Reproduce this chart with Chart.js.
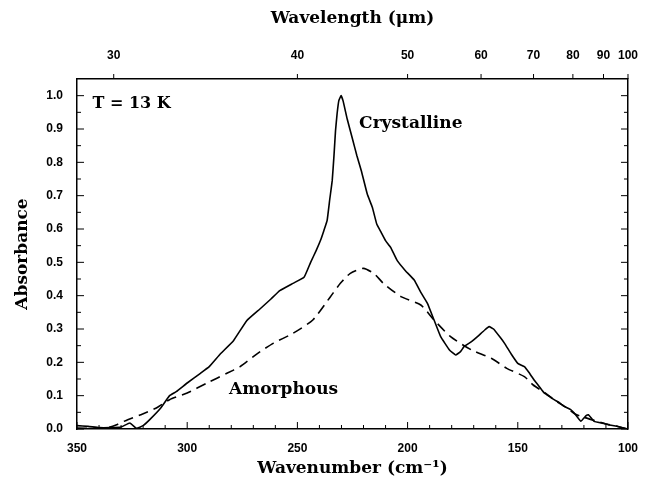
<!DOCTYPE html>
<html>
<head>
<meta charset="utf-8">
<script src="https://cdn.jsdelivr.net/npm/chart.js@4.4.0/dist/chart.umd.min.js"></script>
<style>
  body { margin: 0; background: #fff; }
  #wrap { width: 646px; height: 479px; }
</style>
</head>
<body>
<div id="wrap"><canvas id="spectrum" width="646" height="479"></canvas></div>
<script>
// Wavenumber (cm-1) / absorbance
const crystWavenumber = [350, 345, 340, 335, 330, 326, 323, 320, 317, 312, 308, 305, 300, 294, 290, 285, 279, 273, 267, 262, 258, 252, 247, 244, 241.5, 239.5, 238, 236.5, 235.3, 234.2, 233.4, 232.7, 232, 231.2, 230.2, 229.3, 227.4, 225, 223, 221, 218.3, 216, 214, 212, 210, 207.7, 204.7, 201, 197, 194, 191, 188, 185, 181, 178.2, 176, 174.4, 171, 168.3, 165, 163, 161, 158, 156, 153, 150, 147, 145, 142.6, 140, 138, 135, 133.5, 131, 129, 126, 124.4, 121.4, 119, 118, 115.3, 112, 109, 105, 100];
const crystAbsorbance = [0.010, 0.008, 0.004, 0.004, 0.006, 0.018, 0.002, 0.010, 0.028, 0.063, 0.100, 0.112, 0.138, 0.167, 0.187, 0.225, 0.265, 0.325, 0.360, 0.390, 0.415, 0.437, 0.455, 0.500, 0.535, 0.566, 0.595, 0.626, 0.690, 0.745, 0.820, 0.895, 0.945, 0.985, 1.000, 0.985, 0.930, 0.870, 0.820, 0.775, 0.705, 0.665, 0.615, 0.590, 0.565, 0.545, 0.505, 0.475, 0.447, 0.410, 0.377, 0.327, 0.277, 0.237, 0.222, 0.232, 0.247, 0.262, 0.277, 0.297, 0.307, 0.300, 0.275, 0.257, 0.225, 0.197, 0.187, 0.170, 0.147, 0.125, 0.108, 0.095, 0.088, 0.078, 0.068, 0.058, 0.048, 0.023, 0.040, 0.043, 0.023, 0.018, 0.013, 0.008, 0.000];

const amorWavenumber = [350, 340, 335, 332, 327, 321, 314, 308, 300, 291, 282, 276, 268, 261, 252, 243, 235, 230.5, 226, 220, 215, 211, 203, 194, 188, 180.5, 171, 162, 155, 147, 143, 138, 133, 128, 124, 120, 115, 110, 105, 100];
const amorAbsorbance = [0.003, 0.002, 0.006, 0.013, 0.028, 0.043, 0.063, 0.088, 0.108, 0.138, 0.167, 0.187, 0.227, 0.257, 0.287, 0.327, 0.397, 0.437, 0.467, 0.482, 0.465, 0.437, 0.397, 0.372, 0.327, 0.277, 0.237, 0.212, 0.182, 0.157, 0.132, 0.110, 0.085, 0.065, 0.045, 0.035, 0.025, 0.015, 0.008, 0.000];

const yTickValues = [0, 0.1, 0.2, 0.3, 0.4, 0.5, 0.6, 0.7, 0.8, 0.9, 1.0];
const wavelengthTicks = [30, 40, 50, 60, 70, 80, 90, 100]; // microns, top axis

const toPoints = (xs, ys) => xs.map((x, i) => ({ x: x, y: ys[i] }));

const titleFont = { family: 'DejaVu Serif', size: 17, weight: 'bold' };
const tickFont = { family: 'Liberation Sans', size: 12, weight: 'bold' };

// small tick marks drawn inside the frame, plus the text labels
const decorations = {
  id: 'decorations',
  afterDraw(chart) {
    const ctx = chart.ctx;
    const area = chart.chartArea;
    const x = chart.scales.x, y = chart.scales.y, x2 = chart.scales.x2;
    ctx.save();
    ctx.strokeStyle = '#000';
    ctx.lineWidth = 1;
    ctx.beginPath();
    for (let w = 100; w <= 350; w += 10) {
      const px = x.getPixelForValue(w);
      const len = w % 50 === 0 ? 7 : 4;
      ctx.moveTo(px, area.bottom);
      ctx.lineTo(px, area.bottom - len);
    }
    for (let i = 0; i <= 20; i++) {
      const py = y.getPixelForValue(i * 0.05);
      const len = i % 2 === 0 ? 7 : 4;
      ctx.moveTo(area.left, py);
      ctx.lineTo(area.left + len, py);
      ctx.moveTo(area.right, py);
      ctx.lineTo(area.right - len, py);
    }
    wavelengthTicks.forEach(l => {
      const px = x2.getPixelForValue(10000 / l);
      ctx.moveTo(px, area.top);
      ctx.lineTo(px, area.top - 5);
    });
    ctx.stroke();

    ctx.fillStyle = '#000';
    ctx.textBaseline = 'middle';
    ctx.textAlign = 'left';
    ctx.font = 'bold 16px "DejaVu Serif"';
    ctx.fillText('T = 13 K', x.getPixelForValue(343), y.getPixelForValue(0.975));
    ctx.font = 'bold 17px "DejaVu Serif"';
    ctx.fillText('Crystalline', x.getPixelForValue(222), y.getPixelForValue(0.915));
    ctx.fillText('Amorphous', x.getPixelForValue(281), y.getPixelForValue(0.118));
    ctx.restore();
  }
};

new Chart(document.getElementById('spectrum'), {
  type: 'scatter',
  data: {
    datasets: [{
      label: 'Crystalline',
      data: toPoints(crystWavenumber, crystAbsorbance),
      showLine: true,
      borderColor: '#000',
      borderWidth: 1.6,
      pointRadius: 0,
      tension: 0.1,
      xAxisID: 'x',
      yAxisID: 'y'
    }, {
      label: 'Amorphous',
      data: toPoints(amorWavenumber, amorAbsorbance),
      showLine: true,
      borderColor: '#000',
      borderWidth: 1.6,
      borderDash: [10, 6],
      pointRadius: 0,
      tension: 0.2,
      xAxisID: 'x',
      yAxisID: 'y'
    }]
  },
  options: {
    responsive: false,
    animation: false,
    layout: { padding: 0 },
    plugins: {
      legend: { display: false },
      tooltip: { enabled: false }
    },
    scales: {
      x: {
        type: 'linear',
        position: 'bottom',
        min: 100, max: 350,
        reverse: true,
        grid: { display: false },
        border: { display: true, color: '#000', width: 1.5 },
        ticks: { stepSize: 50, color: '#000', font: tickFont, padding: 4 },
        title: { display: true, text: 'Wavenumber (cm\u207B\u00B9)', color: '#000', font: titleFont, padding: { top: 4, bottom: 0 } },
        afterFit: s => { s.height = 50; }
      },
      x2: {
        type: 'linear',
        position: 'top',
        min: 100, max: 350,
        reverse: true,
        grid: { display: false },
        border: { display: true, color: '#000', width: 1.5 },
        afterBuildTicks: s => { s.ticks = wavelengthTicks.map(l => ({ value: 10000 / l })); },
        ticks: { color: '#000', font: tickFont, padding: 8, callback: v => Math.round(10000 / v) },
        title: { display: true, text: 'Wavelength (\u03BCm)', color: '#000', font: titleFont, padding: { top: 8, bottom: 0 } },
        afterFit: s => { s.height = 79; }
      },
      y: {
        type: 'linear',
        position: 'left',
        min: 0, max: 1.05,
        grid: { display: false },
        border: { display: true, color: '#000', width: 1.5 },
        afterBuildTicks: s => { s.ticks = yTickValues.map(v => ({ value: v })); },
        ticks: { color: '#000', font: tickFont, padding: 6, callback: v => v.toFixed(1) },
        title: { display: true, text: 'Absorbance', color: '#000', font: titleFont, padding: { top: 12, bottom: 0 } },
        afterFit: s => { s.width = 77; }
      },
      y2: {
        type: 'linear',
        position: 'right',
        min: 0, max: 1.05,
        grid: { display: false },
        border: { display: true, color: '#000', width: 1.5 },
        ticks: { display: false },
        afterFit: s => { s.width = 15; }
      }
    }
  },
  plugins: [decorations]
});
</script>
</body>
</html>
